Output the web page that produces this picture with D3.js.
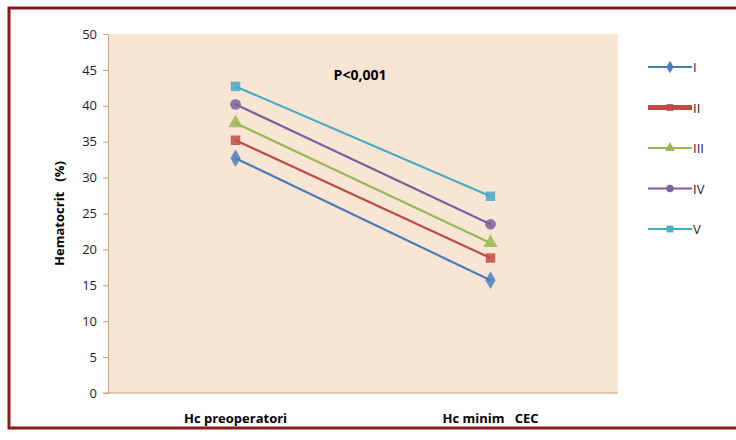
<!DOCTYPE html>
<html><head><meta charset="utf-8">
<script src="https://cdn.jsdelivr.net/npm/d3@7"></script>
<style>body{margin:0;background:#fff}text{font-family:"Open Sans",Calibri,sans-serif}</style>
</head><body><svg id="chart" width="736" height="440"></svg>
<script>
var categories = ["Hc preoperatori", "Hc minim   CEC"];
var seriesNames = ["I", "II", "III", "IV", "V"];
var seriesValues = [[32.7, 15.7], [35.2, 18.8], [37.6, 20.9], [40.2, 23.5], [42.7, 27.4]];
var colors = ["#4a7ebb", "#be4b48", "#98b954", "#7d60a0", "#46aac5"];
var symbols = [d3.symbolDiamond, d3.symbolSquare, d3.symbolTriangle, d3.symbolCircle, d3.symbolSquare];
var yTicks = d3.range(0, 51, 5);

var svg = d3.select("#chart");
svg.append("rect").attr("x", 9).attr("y", 8).attr("width", 730).attr("height", 420)
  .attr("fill", "#fff").attr("stroke", "#8b1a1a").attr("stroke-width", 3);

var pLeft = 108, pRight = 618, pTop = 34, pBottom = 393;
var x = d3.scaleBand().domain(categories).range([pLeft, pRight]);
var y = d3.scaleLinear().domain([0, 50]).range([pBottom, pTop]);

svg.append("rect").attr("x", pLeft).attr("y", pTop).attr("width", pRight - pLeft)
  .attr("height", pBottom - pTop).attr("fill", "#f9e5d4");

var yAxis = svg.append("g").attr("transform", "translate(" + pLeft + ",0)")
  .call(d3.axisLeft(y).tickValues(yTicks).tickSize(5).tickPadding(6));
yAxis.selectAll("path,line").attr("stroke", "#c8a27a");
yAxis.selectAll("text").attr("font-size", 13).attr("fill", "#222");

svg.append("line").attr("x1", pLeft - 5).attr("x2", pRight).attr("y1", pBottom).attr("y2", pBottom)
  .attr("stroke", "#c8a27a");

categories.forEach(function(c) {
  svg.append("text").attr("x", x(c) + x.bandwidth() / 2).attr("y", 423)
    .attr("text-anchor", "middle").attr("font-size", 13).attr("font-weight", "bold")
    .style("white-space", "pre").text(c);
});

svg.append("text").attr("transform", "translate(64," + (pTop + pBottom) / 2 + ") rotate(-90)")
  .attr("text-anchor", "middle").attr("font-size", 13).attr("font-weight", "bold")
  .style("white-space", "pre").text("Hematocrit   (%)");

svg.append("text").attr("x", 360).attr("y", 80).attr("text-anchor", "middle")
  .attr("font-size", 14).attr("font-weight", "bold").text("P<0,001");

var line = d3.line().x(function(d, i) { return x(categories[i]) + x.bandwidth() / 2; })
  .y(function(d) { return y(d); });

seriesValues.forEach(function(vals, s) {
  svg.append("path").attr("d", line(vals)).attr("fill", "none")
    .attr("stroke", colors[s]).attr("stroke-width", 2.2);
  vals.forEach(function(v, i) {
    svg.append("path").attr("d", d3.symbol().type(symbols[s]).size(90)())
      .attr("transform", "translate(" + (x(categories[i]) + x.bandwidth() / 2) + "," + y(v) + ")")
      .attr("fill", colors[s]).attr("opacity", 0.85);
  });
  var ly = 67 + s * 40.5;
  svg.append("line").attr("x1", 648).attr("x2", 692).attr("y1", ly).attr("y2", ly)
    .attr("stroke", colors[s]).attr("stroke-width", s == 1 ? 5 : 2);
  svg.append("path").attr("d", d3.symbol().type(symbols[s]).size(45)())
    .attr("transform", "translate(670," + ly + ")").attr("fill", colors[s]);
  svg.append("text").attr("x", 693).attr("y", ly + 5).attr("font-size", 13)
    .attr("fill", "#222").text(seriesNames[s]);
});
</script></body></html>
